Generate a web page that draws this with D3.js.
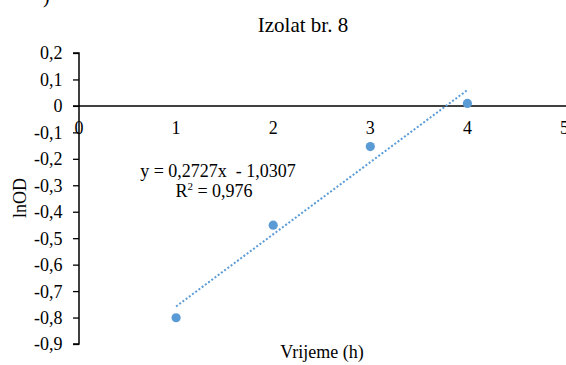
<!DOCTYPE html>
<html>
<head>
<meta charset="utf-8">
<script src="https://cdn.jsdelivr.net/npm/d3@7"></script>
<style>
  html, body { margin: 0; padding: 0; background: #fff; }
  svg { display: block; }
  svg text { font-family: "Times New Roman", "Liberation Serif", "DejaVu Serif", serif !important; fill: #000; white-space: pre; }
</style>
</head>
<body>
<svg id="chart" width="566" height="365"></svg>
<script>
// Measured values: time in hours and ln of optical density
const hours = [1, 2, 3, 4];
const lnOD = [-0.8007, -0.4507, -0.1537, 0.0093];
const xTicks = [0, 1, 2, 3, 4, 5];
const yTicks = [0.2, 0.1, 0, -0.1, -0.2, -0.3, -0.4, -0.5, -0.6, -0.7, -0.8, -0.9];
const trendSlope = 0.2727;
const trendIntercept = -1.0307;
const rSquared = "0,976";

const svg = d3.select("#chart");
const x = d3.scaleLinear().domain([0, 5]).range([79, 564.5]);
const y = d3.scaleLinear().domain([-0.9, 0.2]).range([344, 53]);
const comma = v => String(Math.round(v * 10) / 10).replace(".", ",");

// Partial panel label at top
svg.append("text").attr("x", 43).attr("y", 3).attr("font-size", 20).text(")");

// Title
svg.append("text").attr("x", 303).attr("y", 31.5).attr("text-anchor", "middle")
  .attr("font-size", 21).text("Izolat br. 8");

// Vertical axis with ticks on the left
const yAxis = d3.axisLeft(y).tickValues(yTicks).tickSize(6).tickFormat(comma);
const gy = svg.append("g").attr("transform", `translate(${x(0)},0)`).call(yAxis)
  .attr("font-family", null).attr("font-size", null);
gy.select(".domain").attr("stroke", "#000").attr("stroke-width", 1.5)
  .attr("d", `M-6,${y(0.2)}H0V${y(-0.9)}H-6`);
gy.selectAll(".tick line").attr("stroke", "#000").attr("stroke-width", 1.3);
gy.selectAll(".tick text").attr("font-size", 18).attr("x", -16.5).attr("dy", "0.33em");

// Horizontal axis along y = 0, labels placed below
svg.append("line").attr("x1", x(0) - 6).attr("x2", 566)
  .attr("y1", y(0)).attr("y2", y(0)).attr("stroke", "#000").attr("stroke-width", 1.5);
svg.append("g").selectAll("text").data(xTicks).join("text")
  .attr("x", d => x(d)).attr("y", 133.5).attr("text-anchor", "middle")
  .attr("font-size", 18).text(d => d);

// Linear trendline, dotted
const tr = d => trendSlope * d + trendIntercept;
svg.append("line")
  .attr("x1", x(hours[0])).attr("y1", y(tr(hours[0])))
  .attr("x2", x(hours[hours.length - 1])).attr("y2", y(tr(hours[hours.length - 1])))
  .attr("stroke", "#5B9BD5").attr("stroke-width", 2)
  .attr("stroke-dasharray", "2,2");

// Data points
svg.append("g").selectAll("circle").data(hours).join("circle")
  .attr("cx", d => x(d)).attr("cy", (d, i) => y(lnOD[i])).attr("r", 4.6)
  .attr("fill", "#5B9BD5");

// Trendline equation
svg.append("text").attr("x", 218).attr("y", 176.5).attr("text-anchor", "middle")
  .attr("font-size", 18)
  .text(`y = ${String(trendSlope).replace(".", ",")}x  - ${String(-trendIntercept).replace(".", ",")}`);
const r2 = svg.append("text").attr("x", 214).attr("y", 197).attr("text-anchor", "middle")
  .attr("font-size", 18);
r2.append("tspan").text("R");
r2.append("tspan").attr("font-size", 11).attr("dy", -7).text("2");
r2.append("tspan").attr("dy", 7).text(` = ${rSquared}`);

// Axis titles
svg.append("text").attr("x", 322).attr("y", 358).attr("text-anchor", "middle")
  .attr("font-size", 18).text("Vrijeme (h)");
svg.append("text").attr("transform", "translate(26,198) rotate(-90)")
  .attr("text-anchor", "middle").attr("font-size", 18).text("lnOD");
</script>
</body>
</html>
